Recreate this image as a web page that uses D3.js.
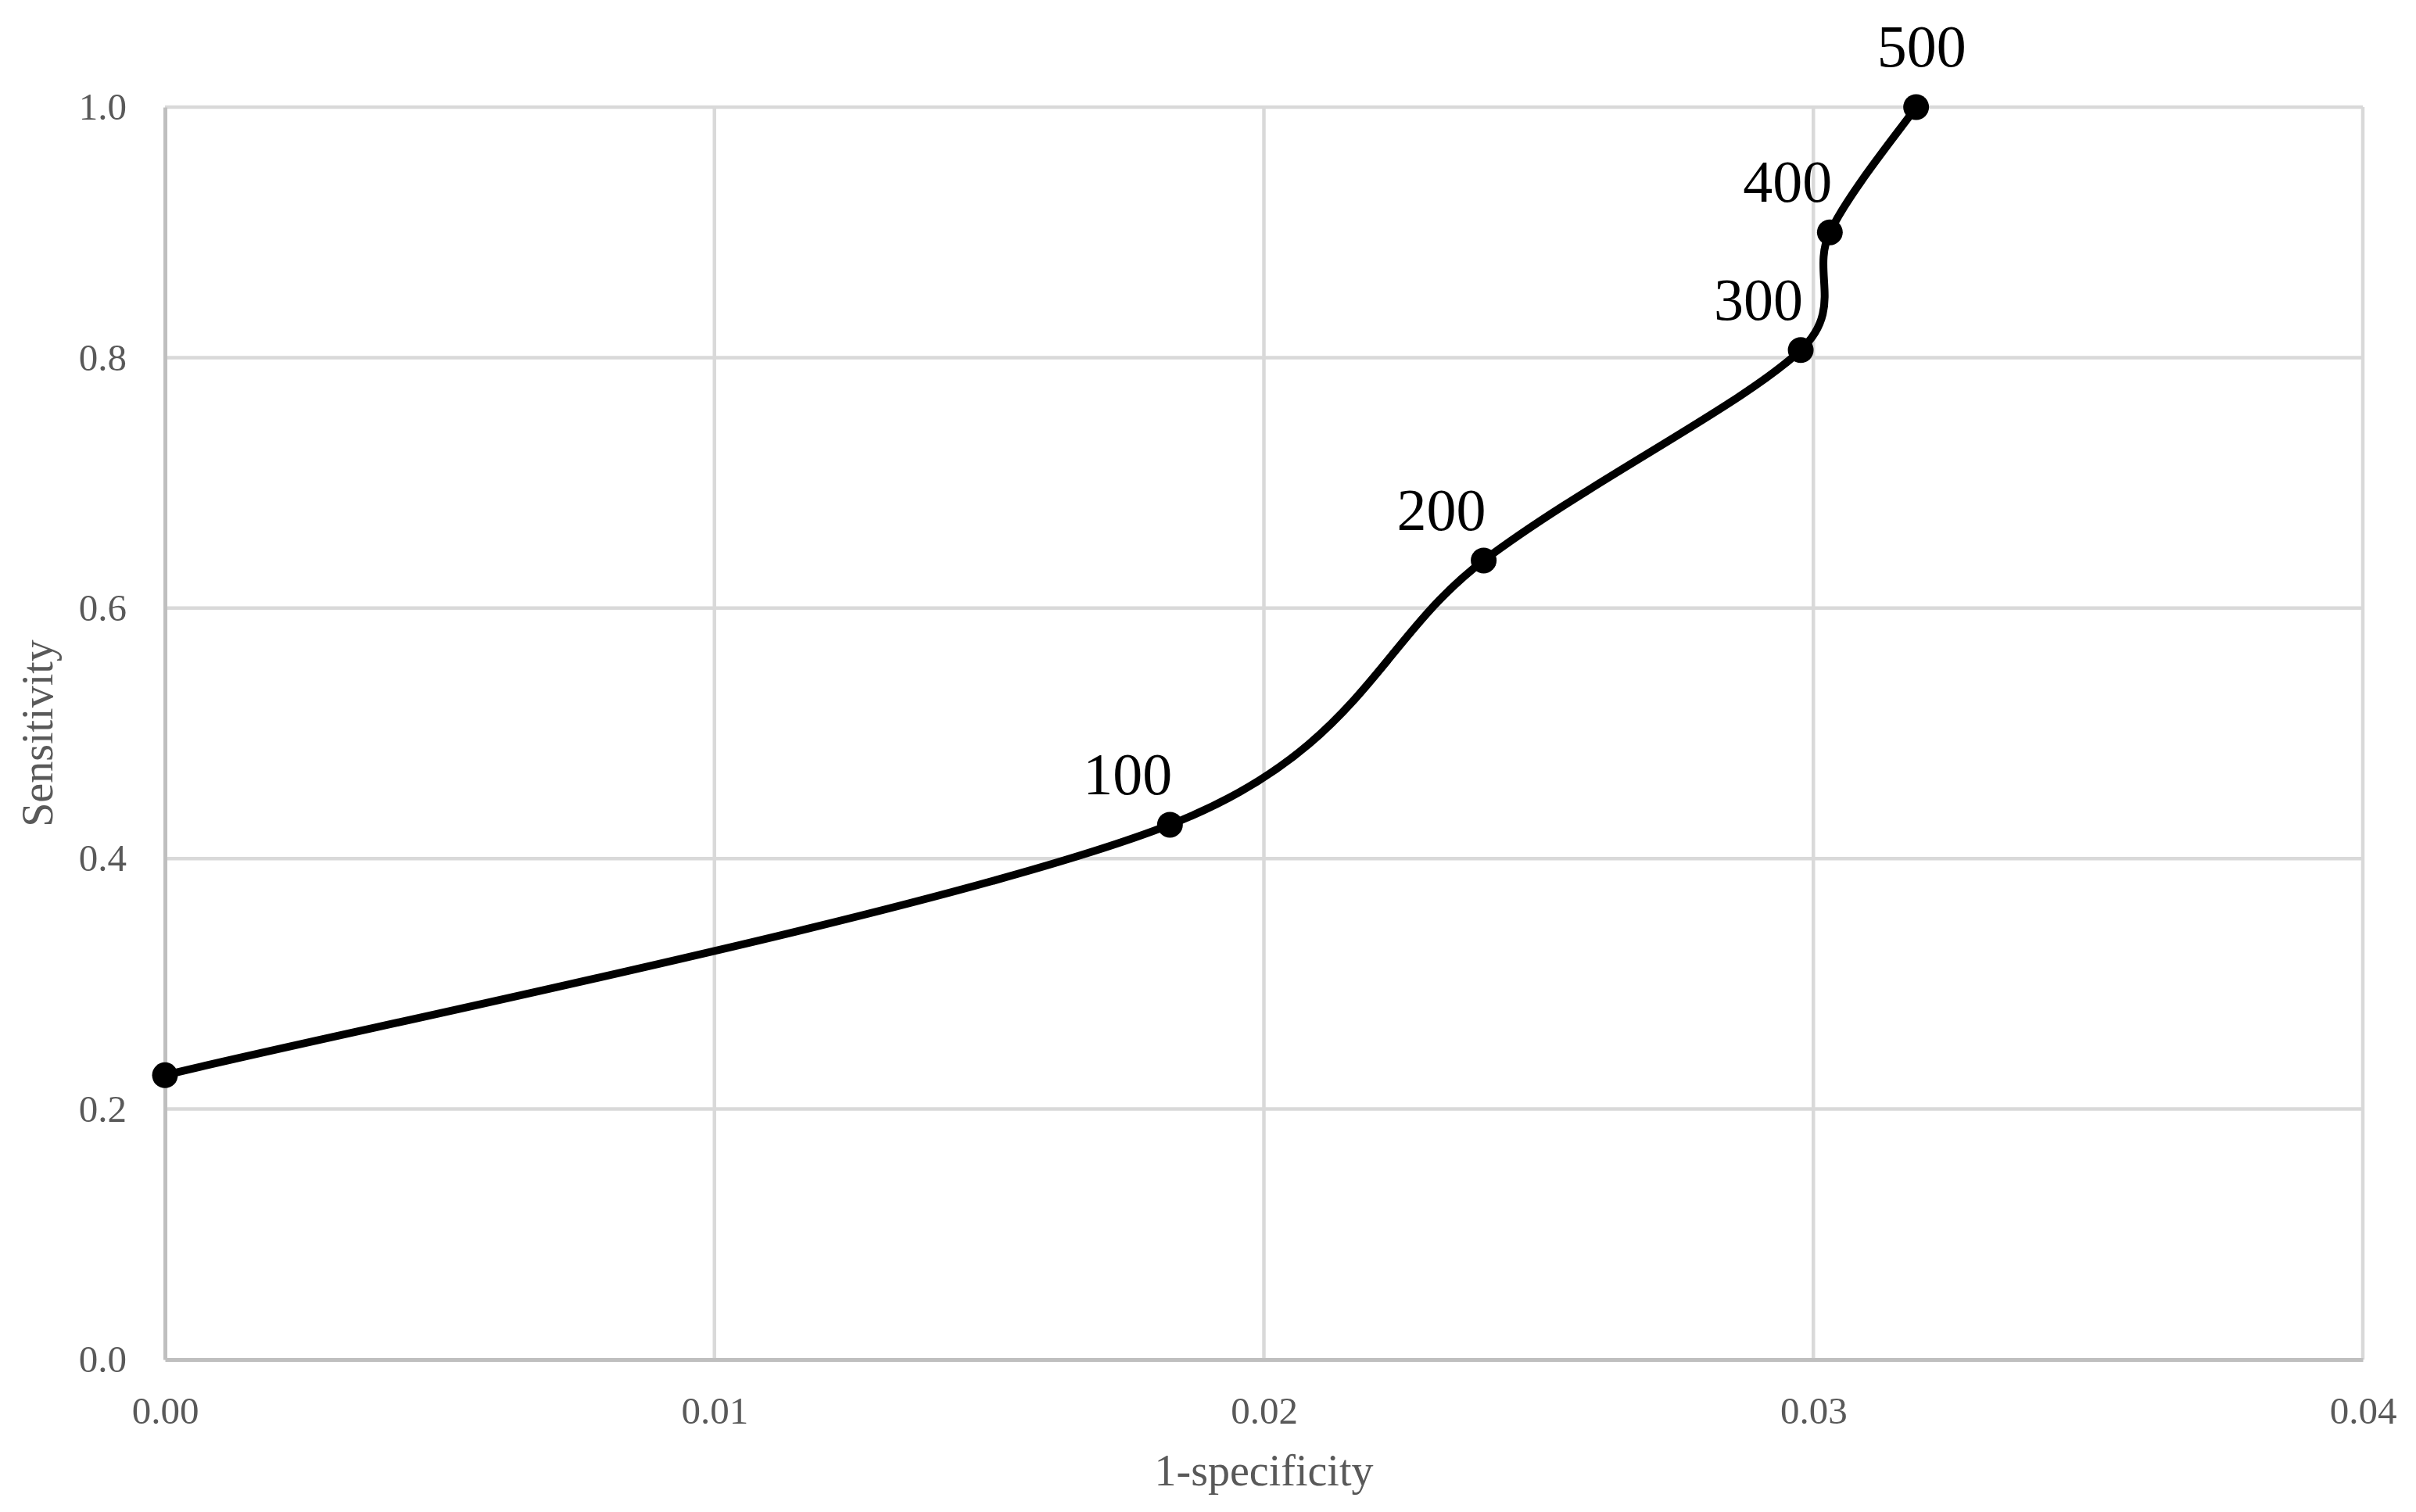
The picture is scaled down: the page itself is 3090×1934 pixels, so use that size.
<!DOCTYPE html>
<html>
<head>
<meta charset="utf-8">
<script src="https://cdn.jsdelivr.net/npm/d3@7"></script>
<style>
  html, body { margin: 0; padding: 0; background: #ffffff; }
  svg { display: block; }
</style>
</head>
<body>
<svg id="chart" width="3090" height="1934"></svg>
<script>
// ---- data ----
const thresholds = ["", "100", "200", "300", "400", "500"];
const oneMinusSpecificity = [0.0, 0.01829, 0.0240, 0.02977, 0.03030, 0.03187];
const sensitivity = [0.227, 0.427, 0.638, 0.806, 0.900, 1.0];
const xTicks = [0.00, 0.01, 0.02, 0.03, 0.04];
const yTicks = [0.0, 0.2, 0.4, 0.6, 0.8, 1.0];
const xTitle = "1-specificity";
const yTitle = "Sensitivity";

const points = thresholds.map((t, i) => ({ label: t, x: oneMinusSpecificity[i], y: sensitivity[i] }));

// ---- spreadsheet-style smoothed curve (Bezier, limited control arms) ----
function SmoothCurve(context) { this._context = context; }
SmoothCurve.prototype = {
  areaStart() { this._line = 0; },
  areaEnd() { this._line = NaN; },
  lineStart() { this._pts = []; },
  point(px, py) { this._pts.push([+px, +py]); },
  lineEnd() {
    const p = this._pts, c = this._context, n = p.length;
    if (!n) return;
    const dist = (a, b) => Math.hypot(b[0] - a[0], b[1] - a[1]);
    c.moveTo(p[0][0], p[0][1]);
    for (let i = 0; i < n - 1; i++) {
      const p0 = p[Math.max(i - 1, 0)], p1 = p[i], p2 = p[i + 1], p3 = p[Math.min(i + 2, n - 1)];
      const d12 = dist(p1, p2), d02 = dist(p0, p2), d13 = dist(p1, p3);
      const f1 = d02 ? Math.min(1 / 6, d12 / (2 * d02)) : 0;
      const f2 = d13 ? Math.min(1 / 6, d12 / (2 * d13)) : 0;
      c.bezierCurveTo(
        p1[0] + f1 * (p2[0] - p0[0]), p1[1] + f1 * (p2[1] - p0[1]),
        p2[0] - f2 * (p3[0] - p1[0]), p2[1] - f2 * (p3[1] - p1[1]),
        p2[0], p2[1]);
    }
  }
};
const curveSmooth = ctx => new SmoothCurve(ctx);

// ---- layout ----
const W = 3090, H = 1934;
const margin = { left: 211, right: W - 3022, top: 137, bottom: H - 1739 };
const svg = d3.select("#chart");
svg.append("rect").attr("width", W).attr("height", H).attr("fill", "#ffffff");

const x = d3.scaleLinear().domain([0, 0.04]).range([margin.left, W - margin.right]);
const y = d3.scaleLinear().domain([0, 1]).range([H - margin.bottom, margin.top]);

const serif = "'Liberation Serif', 'Times New Roman', Times, serif";
const grey = "#595959";

// gridlines
const grid = svg.append("g");
grid.selectAll("line.hg").data(yTicks.filter(d => d > 0)).join("line")
  .attr("x1", x(0)).attr("x2", x(0.04))
  .attr("y1", d => y(d)).attr("y2", d => y(d))
  .attr("stroke", "#d9d9d9").attr("stroke-width", 4.5);
grid.selectAll("line.vg").data(xTicks.filter(d => d > 0)).join("line")
  .attr("y1", y(0)).attr("y2", y(1))
  .attr("x1", d => x(d)).attr("x2", d => x(d))
  .attr("stroke", "#d9d9d9").attr("stroke-width", 4.5);

// axes
const xAxis = d3.axisBottom(x).tickValues(xTicks).tickFormat(d3.format(".2f")).tickSize(0).tickPadding(47);
const yAxis = d3.axisLeft(y).tickValues(yTicks).tickFormat(d3.format(".1f")).tickSize(0).tickPadding(49);

const gx = svg.append("g").attr("transform", `translate(0,${y(0)})`).call(xAxis);
const gy = svg.append("g").attr("transform", `translate(${x(0)},0)`).call(yAxis);
[gx, gy].forEach(g => {
  g.select(".domain").attr("stroke", "#bfbfbf").attr("stroke-width", 5);
  g.selectAll("text").attr("font-family", serif).attr("font-size", 49).attr("fill", grey);
});

// axis titles
svg.append("text")
  .attr("x", (x(0) + x(0.04)) / 2).attr("y", 1900)
  .attr("text-anchor", "middle")
  .attr("font-family", serif).attr("font-size", 56).attr("fill", grey)
  .text(xTitle);
svg.append("text")
  .attr("transform", `translate(67,${(y(0) + y(1)) / 2}) rotate(-90)`)
  .attr("text-anchor", "middle")
  .attr("font-family", serif).attr("font-size", 56).attr("fill", grey)
  .text(yTitle);

// line
const line = d3.line().x(d => x(d.x)).y(d => y(d.y)).curve(curveSmooth);
svg.append("path").datum(points)
  .attr("d", line)
  .attr("fill", "none").attr("stroke", "#000000").attr("stroke-width", 10)
  .attr("stroke-linejoin", "round").attr("stroke-linecap", "round");

// markers
svg.selectAll("circle.pt").data(points).join("circle")
  .attr("cx", d => x(d.x)).attr("cy", d => y(d.y)).attr("r", 16.5)
  .attr("fill", "#000000");

// data labels
const last = points.length - 1;
svg.selectAll("text.lbl").data(points.filter(d => d.label !== "")).join("text")
  .attr("x", d => x(d.x) + (d === points[last] ? 7 : 3))
  .attr("y", d => y(d.y) - (d === points[last] ? 52 : 39))
  .attr("text-anchor", d => d === points[last] ? "middle" : "end")
  .attr("font-family", serif).attr("font-size", 76).attr("fill", "#000000")
  .text(d => d.label);
</script>
</body>
</html>
